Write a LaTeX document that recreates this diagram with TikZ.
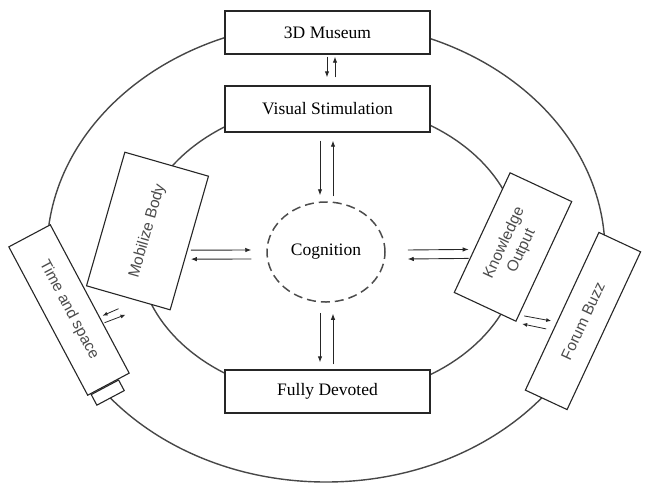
\documentclass[tikz,border=0pt]{standalone}
\usepackage{fontspec}
\setmainfont{Liberation Serif}
\setsansfont{Liberation Sans}
\usetikzlibrary{arrows.meta,calc,shapes.geometric}
\begin{document}
\begin{tikzpicture}[x=1pt,y=-1pt,
  ring/.style={draw=black!72, line width=1.4pt},
  hbox/.style={draw=black!85, line width=1.4pt, fill=white, minimum width=205, inner sep=0pt, font=\fontsize{17.5}{20}\selectfont},
  rbox/.style={draw=black!85, line width=1.1pt, fill=white, inner sep=0pt, align=center, text=black!70, font=\sffamily\fontsize{15.5}{19}\selectfont},
  arr/.style={draw=black!85, line width=0.9pt, -{Latex[length=6pt,width=4.5pt]}},
  sarr/.style={draw=black!85, line width=0.8pt, -{Latex[length=5pt,width=4pt]}},
]
\useasboundingbox (0,0) rectangle (645,485);
% rings
\draw[ring] (326,252) ellipse [x radius=279, y radius=230];
\draw[ring] (329,250) ellipse [x radius=191, y radius=147];
% centre
\node[ellipse, draw=black!70, line width=1.5pt, dash pattern=on 9pt off 5pt, minimum width=118, minimum height=100, inner sep=0pt, font=\fontsize{17.5}{20}\selectfont] (cog) at (326,252) {Cognition};
% horizontal boxes
\node[hbox, minimum height=43] (m3d) at (327.5,32.5) {3D Museum};
\node[hbox, minimum height=46] (vis) at (327.5,109) {Visual Stimulation};
\node[hbox, minimum height=43] (fd) at (327.5,391.5) {Fully Devoted};
% rotated boxes
\node[rbox, rotate=74, minimum width=139, minimum height=87] (mob) at (147.5,231) {Mobilize Body};
\node[rbox, rotate=-62, minimum width=168, minimum height=47] (ts) at (69,310) {Time and space};
\node[draw=black!85, line width=1.1pt, fill=white, rotate=-62, minimum width=12, minimum height=31, inner sep=0pt, anchor=west] (tab) at ($(ts.south east)!0.405!(ts.north east)$) {};
\node[rbox, rotate=65, minimum width=132, minimum height=68] (ko) at (513,247) {Knowledge\\Output};
\node[rbox, rotate=65, minimum width=174, minimum height=46] (fb) at (583,321) {Forum Buzz};
% arrows 3D Museum <-> Visual Stimulation
\draw[arr] ($(m3d.south)+(-0.5,2)$) -- ($(vis.north)+(-0.5,-8)$);
\draw[arr] ($(vis.north)+(7.5,-8)$) -- ($(m3d.south)+(7.5,2)$);
% Visual Stimulation <-> Cognition
\draw[arr] ($(vis.south)+(-7.5,8)$) -- ($(cog.north)+(-6,-6)$);
\draw[arr] ($(cog.north)+(7,-5)$) -- ($(vis.south)+(5.5,8)$);
% Cognition <-> Fully Devoted
\draw[arr] ($(cog.south)+(-6,10)$) -- ($(fd.north)+(-7.5,-7)$);
\draw[arr] ($(fd.north)+(5.5,-5)$) -- ($(cog.south)+(7,11)$);
% Mobilize Body <-> Cognition
\draw[arr] ($(mob.south)+(1,7)$) -- ($(cog.west)+(-15,-2)$);
\draw[arr] ($(cog.west)+(-15,7)$) -- ($(mob.south)+(1,16)$);
% Cognition <-> Knowledge Output
\draw[arr] ($(cog.east)+(22,-2)$) -- ($(ko.north)+(-13,17)$);
\draw[arr] ($(ko.north)+(-13,26)$) -- ($(cog.east)+(22,7)$);
% Time and space <-> Mobilize Body
\draw[sarr] ($(ts.north)+(28.3,10)$) -- ($(ts.north)+(12.3,17)$);
\draw[sarr] ($(ts.north)+(14.3,24)$) -- ($(ts.north)+(35.3,16)$);
% Knowledge Output <-> Forum Buzz
\draw[sarr] ($(ko.south west)+(8,-6)$) -- ($(ko.south west)+(35,-1)$);
\draw[sarr] ($(ko.south west)+(30,7)$) -- ($(ko.south west)+(6,2)$);
\end{tikzpicture}
\end{document}
